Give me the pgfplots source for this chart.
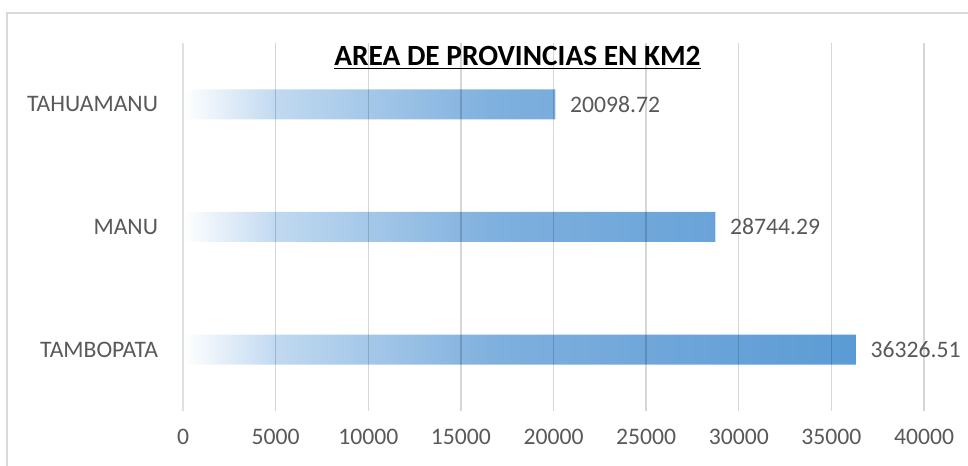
\documentclass[border=0pt]{standalone}
\usepackage{pgfplots}
\pgfplotsset{compat=1.18}
\usepackage{fontspec}
\setmainfont{Carlito}
\definecolor{bblue}{HTML}{5B9BD5}
\definecolor{bmid}{HTML}{7FB0DE}
\definecolor{blight}{HTML}{C0D9F0}
\definecolor{txtgray}{HTML}{595959}
\definecolor{framegray}{HTML}{D9D9D9}
% bar gradient: the bar spans 25bp..75bp of the shading
\pgfdeclarehorizontalshading{barshade}{100bp}{color(0bp)=(white); color(25bp)=(white); color(32bp)=(blight); color(48bp)=(bmid); color(75bp)=(bblue); color(100bp)=(bblue)}
\begin{document}
\begin{tikzpicture}
\useasboundingbox (0,0) rectangle (726pt,-349.5pt);
\draw[framegray, line width=1.5pt] (5.25pt,-9.75pt) rectangle (760pt,-380pt);
\begin{axis}[
    at={(137.25pt,-308.25pt)}, anchor=south west,
    scale only axis, width=555.75pt, height=276pt,
    xbar, bar width=22.5pt,
    xmin=0, xmax=40000, ymin=-0.5, ymax=2.5,
    ytick={0,1,2},
    yticklabels={TAMBOPATA,MANU,TAHUAMANU},
    xtick={5000,10000,...,40000},
    extra x ticks={0},
    extra x tick style={grid style={draw=black, opacity=0.12, line width=2.2pt}},
    xmajorgrids,
    grid style={draw=black, opacity=0.16, line width=1pt},
    axis line style={draw=none},
    tick style={draw=none},
    axis on top,
    scaled x ticks=false,
    /pgf/number format/1000 sep={},
    /pgf/number format/assume math mode=true,
    tick label style={font=\fontsize{17.75}{20}\selectfont, text=txtgray},
    xticklabel style={yshift=-10pt},
    yticklabel style={xshift=-11pt},
    nodes near coords,
    point meta=explicit symbolic,
    nodes near coords style={anchor=west, xshift=7.5pt, font=\fontsize{17.75}{20}\selectfont, text=txtgray},
]
\addplot[draw=none, shade, shading=barshade] coordinates {
    (36326.51,0) [36326.51]
    (28744.29,1) [28744.29]
    (20098.72,2) [20098.72]
};
\end{axis}
\node[anchor=base, font=\fontsize{22}{26}\selectfont\bfseries] at (388.1pt,-49.5pt) {\underline{AREA DE PROVINCIAS EN KM2}};
\end{tikzpicture}
\end{document}
